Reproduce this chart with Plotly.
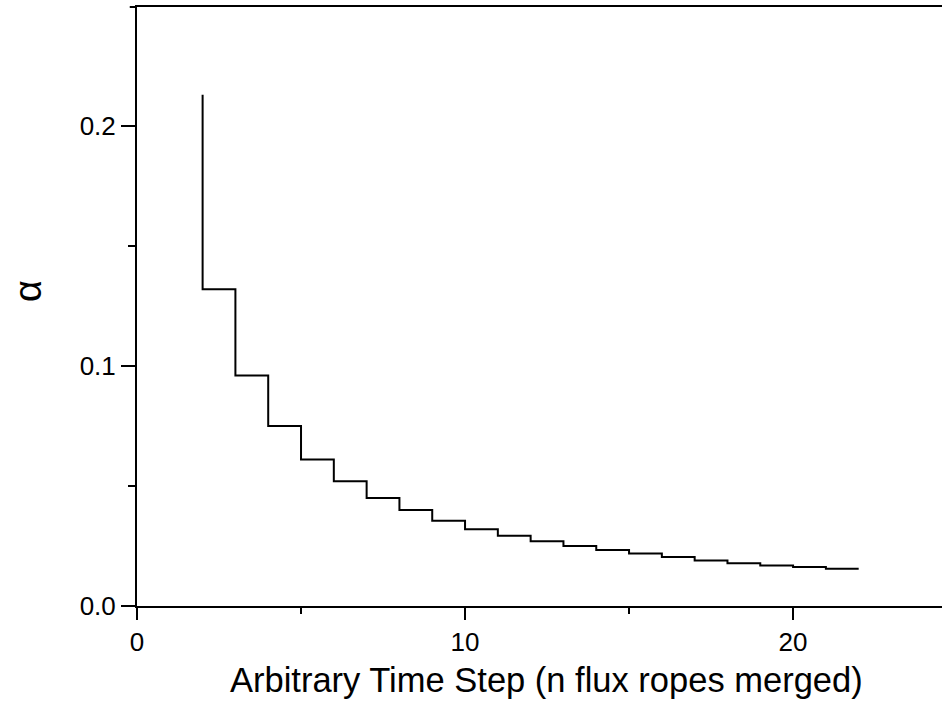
import plotly.graph_objects as go

# merged flux ropes (step edges) and alpha values
n_steps = [2, 3, 4, 5, 6, 7, 8, 9, 10, 11, 12, 13, 14, 15, 16, 17, 18, 19, 20, 21, 22]
alpha = [0.213, 0.132, 0.096, 0.075, 0.061, 0.052, 0.045, 0.040, 0.0355, 0.032,
         0.0293, 0.027, 0.025, 0.0233, 0.0219, 0.0204, 0.019, 0.0178, 0.0169,
         0.0162, 0.0155]

x_ticks = [0, 10, 20]
x_labels = ["0", "10", "20"]
y_ticks = [0.0, 0.1, 0.2]
y_labels = ["0.0", "0.1", "0.2"]

FONT = "Arial, Liberation Sans, Helvetica, sans-serif"

fig = go.Figure()
fig.add_trace(go.Scatter(
    x=n_steps, y=alpha, mode="lines", line_shape="vh",
    line=dict(color="black", width=2), showlegend=False,
))

fig.update_layout(
    width=942, height=702,
    margin=dict(l=137, r=0, t=7, b=96),
    paper_bgcolor="white", plot_bgcolor="white",
    font=dict(family=FONT, color="black"),
)
fig.update_xaxes(
    range=[0, 24.54], showgrid=False, zeroline=False,
    showline=True, linecolor="black", linewidth=2, mirror=True,
    tickmode="array", tickvals=x_ticks, ticktext=x_labels,
    ticks="outside", ticklen=12, tickwidth=2, tickcolor="black",
    tickfont=dict(size=26, family=FONT),
    minor=dict(tickmode="array", tickvals=[5, 15], ticks="outside", ticklen=6, tickwidth=2, tickcolor="black"),
)
fig.update_yaxes(
    range=[0, 0.2496], showgrid=False, zeroline=False,
    showline=True, linecolor="black", linewidth=2,
    tickmode="array", tickvals=y_ticks, ticktext=y_labels,
    ticks="outside", ticklen=14, tickwidth=2, tickcolor="black",
    tickfont=dict(size=26, family=FONT),
    minor=dict(tickmode="array", tickvals=[0.05, 0.15], ticks="outside", ticklen=7, tickwidth=2, tickcolor="black"),
)

# x-axis title
fig.add_annotation(
    text="Arbitrary Time Step (n flux ropes merged)", xref="paper", yref="paper",
    x=0.509, y=-0.123, xanchor="center", yanchor="middle", showarrow=False,
    font=dict(size=34.5, family=FONT, color="black"),
)
# y-axis title (rotated alpha)
fig.add_annotation(
    text="α", xref="paper", yref="paper", x=-0.136, y=0.525,
    xanchor="center", yanchor="middle", textangle=-90, showarrow=False,
    font=dict(size=38, family=FONT, color="black"),
)
# small overshoot of the top frame line to the left
fig.add_shape(type="line", xref="paper", yref="paper", x0=-0.009, x1=0, y0=1, y1=1,
              line=dict(color="black", width=2))

fig.write_html("out.html")
